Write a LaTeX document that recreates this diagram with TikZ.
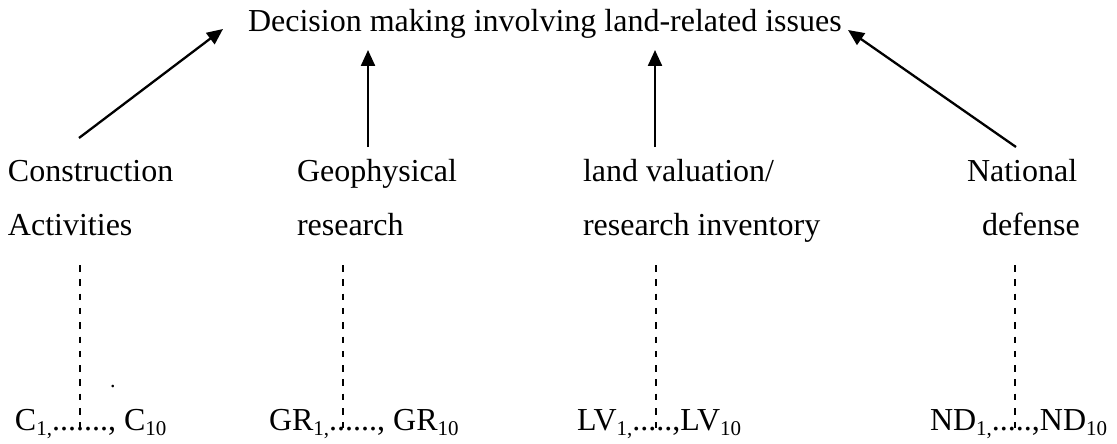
\documentclass[tikz,border=0pt]{standalone}
\usepackage{fontspec}
\setmainfont{Liberation Serif}
\usetikzlibrary{arrows.meta,positioning}
\newcommand{\lowidx}[1]{\raisebox{-5pt}{\fontsize{21}{21}\selectfont #1}}

\begin{document}
\begin{tikzpicture}[
  x=1pt,
  y=-1pt,
  >={Triangle[length=16pt,width=14pt]},
  txt/.style={inner sep=0,outer sep=0,anchor=base west,font=\fontsize{32}{38}\selectfont},
  arrow/.style={->,line width=2.3pt},
  guide/.style={line width=1.8pt,dash pattern=on 6.5pt off 7.8pt}
]
  \useasboundingbox (0,0) rectangle (1117,444);

  % goal
  \node[txt] (goal) at (248,32) {Decision making involving land-related issues};

  % areas of use
  \node[txt] (cons1) at (8,181) {Construction};
  \node[txt] (cons2) at (8,235) {Activities};
  \node[txt] (geo1) at (297,181) {Geophysical};
  \node[txt] (geo2) at (297,235) {research};
  \node[txt] (land1) at (583,181) {land valuation/};
  \node[txt] (land2) at (583,235) {research inventory};
  \node[txt] (nat1) at (967,181) {National};
  \node[txt] (nat2) at (982,235) {defense};

  % items
  \node[txt] (consi) at (15,430) {C\lowidx{1,}.......,\ C\lowidx{10}};
  \node[txt] (geoi) at (269,430) {GR\lowidx{1,}......,\ GR\lowidx{10}};
  \node[txt] (landi) at (577,430) {LV\lowidx{1,}.....,LV\lowidx{10}};
  \node[txt] (nati) at (930,430) {ND\lowidx{1,}.....,ND\lowidx{10}};
  \node[txt,font=\fontsize{22}{22}\selectfont] (stray) at (110,387) {.};

  % arrow ends
  \coordinate (cons-out) at (79,138);
  \coordinate (geo-out) at (368,147);
  \coordinate (land-out) at (655,147);
  \coordinate (nat-out) at (1016,147);
  \coordinate (goal-in1) at (223,29);
  \coordinate (goal-in2) at (368,50);
  \coordinate (goal-in3) at (655,50);
  \coordinate (goal-in4) at (848,30);

  \draw[arrow] (cons-out) -- (goal-in1);
  \draw[arrow] (geo-out) -- (goal-in2);
  \draw[arrow] (land-out) -- (goal-in3);
  \draw[arrow] (nat-out) -- (goal-in4);

  % dashed links to the items
  \foreach \name/\x in {cons/80,geo/343,land/656,nat/1015} {
    \coordinate (\name-top) at (\x,265);
    \coordinate (\name-bot) at (\x,428);
    \draw[guide] (\name-top) -- (\name-bot);
  }
\end{tikzpicture}
\end{document}
